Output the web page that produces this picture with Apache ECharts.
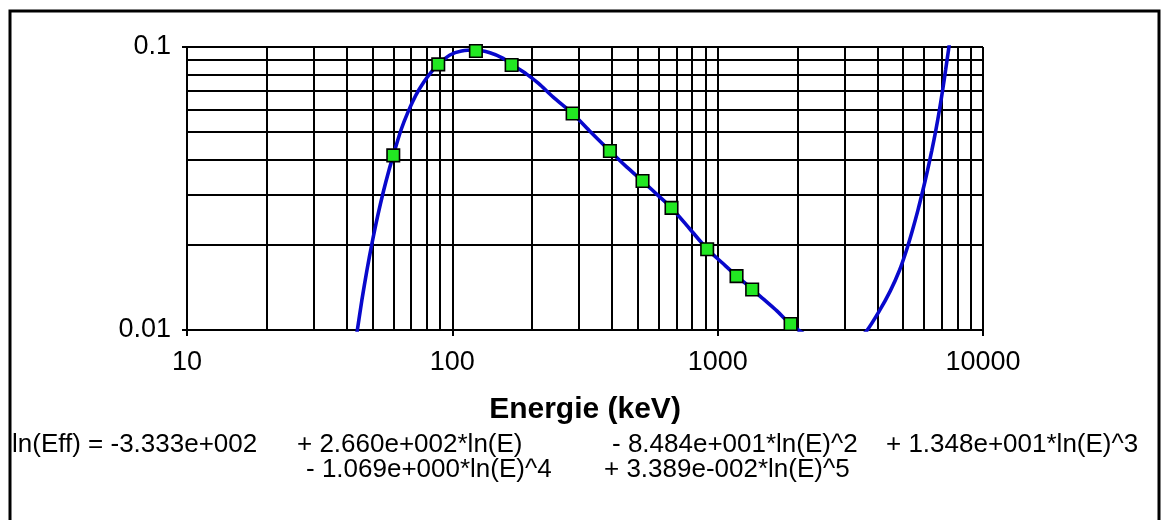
<!DOCTYPE html>
<html>
<head>
<meta charset="utf-8">
<script src="https://cdn.jsdelivr.net/npm/echarts@6/dist/echarts.min.js"></script>
<style>
  html, body { margin: 0; padding: 0; background: #fff; }
  #chart { width: 1161px; height: 520px; }
</style>
</head>
<body>
<div id="chart"></div>
<script>
// Measured detector efficiency at each calibration energy (keV)
const energies = [59.9, 88.5, 122.7, 167.3, 284, 392.5, 521, 670, 913, 1178, 1349, 1883];
const efficiencies = [0.0414, 0.0868, 0.0968, 0.0864, 0.0582, 0.0429, 0.0336, 0.0270, 0.0193, 0.0155, 0.0139, 0.0105];

// Fitted efficiency curve sampled along the energy range
const fitEnergies = [43.2, 43.8, 45.56, 47.62, 49.74, 52.35, 55.1, 57.67, 59.9, 64.0, 68.1, 72.9, 78.2, 83.4,
  88.5, 97.95, 108.4, 122.7, 138.6, 155.5, 167.3, 190.5, 210.7, 240, 284, 332.8, 392.5, 453.6, 521, 590, 670,
  785.7, 913, 1037, 1178, 1349, 1493, 1672, 1883, 2131, 2324, 2601, 2887, 3204, 3434,
  3639, 4067, 4474, 4837, 5140, 5415, 5680, 5932, 6179, 6414, 6641, 6850, 7043, 7229, 7413, 7504];
const fitEfficiencies = [0.00914, 0.00992, 0.01267, 0.01619, 0.02013, 0.02536, 0.03111, 0.03662, 0.0414, 0.0508,
  0.0590, 0.0676, 0.0753, 0.0817, 0.0868, 0.0937, 0.0968, 0.0976, 0.0954, 0.0912, 0.0868, 0.0802, 0.0745, 0.0665,
  0.0582, 0.04995, 0.0429, 0.0377, 0.0336, 0.03015, 0.0270, 0.02275, 0.01932, 0.01732, 0.01554, 0.01394, 0.01282,
  0.01168, 0.01047, 0.00964, 0.00914, 0.00878, 0.00885, 0.00918, 0.00948,
  0.00992, 0.01168, 0.01375, 0.01619, 0.01906, 0.02244, 0.02642, 0.03111, 0.03664, 0.04313, 0.05078, 0.05977,
  0.07039, 0.08289, 0.09758, 0.1059];

// Axis ranges and intermediate grid values
const xRange = [10, 10000];
const yRange = [0.01, 0.1];
const xMinorGrid = [20, 30, 40, 50, 60, 70, 80, 90, 200, 300, 400, 500, 600, 700, 800, 900,
  2000, 3000, 4000, 5000, 6000, 7000, 8000, 9000];
const yMinorGrid = [0.02, 0.03, 0.04, 0.05, 0.06, 0.07, 0.08, 0.09];

const xAxisTitle = 'Energie (keV)';
const equationRow1 = ['ln(Eff) = -3.333e+002', '+ 2.660e+002*ln(E)', '- 8.484e+001*ln(E)^2', '+ 1.348e+001*ln(E)^3'];
const equationRow2 = ['- 1.069e+000*ln(E)^4', '+ 3.389e-002*ln(E)^5'];

const FONT = '"Liberation Sans", Arial, sans-serif';
const row1Left = [12, 297, 612, 886];
const row2Left = [306, 604];

const measured = energies.map((e, i) => [e, efficiencies[i]]);
const fitted = fitEnergies.map((e, i) => [e, fitEfficiencies[i]]);

const gridLines = xMinorGrid.map(v => ({ xAxis: v })).concat(yMinorGrid.map(v => ({ yAxis: v })));

const equationText = [];
equationRow1.forEach((t, i) => equationText.push({
  type: 'text', x: row1Left[i], y: 445,
  style: { text: t, font: '26px ' + FONT, fill: '#000', verticalAlign: 'middle' }
}));
equationRow2.forEach((t, i) => equationText.push({
  type: 'text', x: row2Left[i], y: 470,
  style: { text: t, font: '26px ' + FONT, fill: '#000', verticalAlign: 'middle' }
}));

const chart = echarts.init(document.getElementById('chart'), null, { renderer: 'canvas' });
chart.setOption({
  animation: false,
  backgroundColor: '#fff',
  grid: { left: 187, top: 47, width: 796, height: 283, containLabel: false },
  xAxis: {
    type: 'log', logBase: 10, min: xRange[0], max: xRange[1],
    name: xAxisTitle, nameLocation: 'middle', nameGap: 65,
    nameTextStyle: { fontFamily: FONT, fontWeight: 'bold', fontSize: 30, color: '#000' },
    axisLine: { show: true, lineStyle: { color: '#000', width: 2 } },
    axisTick: { show: true, length: 6, lineStyle: { color: '#000', width: 2 } },
    axisLabel: { fontFamily: FONT, fontSize: 27, color: '#000', margin: 19,
      formatter: v => String(Math.round(v)) },
    splitLine: { show: true, lineStyle: { color: '#000', width: 2 } },
    minorTick: { show: false }, minorSplitLine: { show: false }
  },
  yAxis: {
    type: 'log', logBase: 10, min: yRange[0], max: yRange[1],
    axisLine: { show: true, lineStyle: { color: '#000', width: 2 } },
    axisTick: { show: true, length: 5, lineStyle: { color: '#000', width: 2 } },
    axisLabel: { fontFamily: FONT, fontSize: 27, color: '#000', margin: 16,
      formatter: v => String(+Number(v).toPrecision(6)) },
    splitLine: { show: true, lineStyle: { color: '#000', width: 2 } }
  },
  series: [
    {
      type: 'line', data: fitted, showSymbol: false, smooth: 0.3, clip: true, z: 2,
      lineStyle: { color: '#0808cc', width: 3.6 },
      markLine: {
        z: 1, silent: true, symbol: ['none', 'none'], animation: false,
        label: { show: false },
        lineStyle: { type: 'solid', color: '#000', width: 2 },
        emphasis: { disabled: true },
        data: gridLines
      }
    },
    {
      type: 'scatter', data: measured, symbol: 'rect', symbolSize: 12.5, z: 3,
      itemStyle: { color: '#22e822', borderColor: '#000', borderWidth: 1.6, opacity: 1 }
    }
  ],
  graphic: [
    { type: 'rect', shape: { x: 10, y: 11, width: 1149, height: 540 },
      style: { fill: 'none', stroke: '#000', lineWidth: 3 }, silent: true }
  ].concat(equationText)
});
</script>
</body>
</html>
